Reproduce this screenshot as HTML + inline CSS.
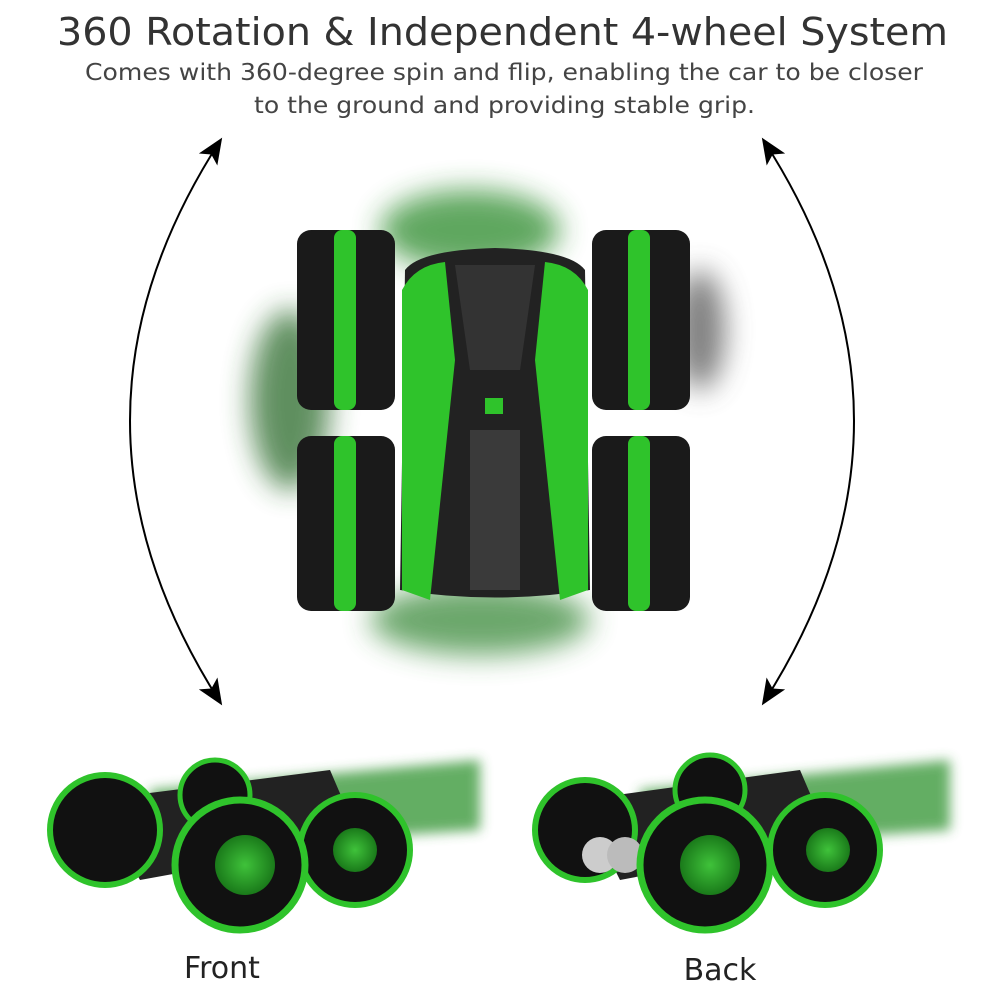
<!DOCTYPE html>
<html><head><meta charset="utf-8"><style>
html,body{margin:0;padding:0;background:#fff;}
svg{display:block;}
</style></head><body>
<svg width="1005" height="1005" viewBox="0 0 1005 1005" xmlns="http://www.w3.org/2000/svg">
<defs>
<filter id="blur" x="-50%" y="-50%" width="200%" height="200%"><feGaussianBlur stdDeviation="14"/></filter>
<filter id="blur2" x="-50%" y="-50%" width="200%" height="200%"><feGaussianBlur stdDeviation="6"/></filter>
<marker id="ah" markerWidth="26" markerHeight="22" refX="22" refY="11" orient="auto-start-reverse" markerUnits="userSpaceOnUse">
<path d="M0,0 L26,11 L0,22 L6,11 Z" fill="#000"/></marker>
<radialGradient id="hub" cx="50%" cy="50%" r="50%"><stop offset="0" stop-color="#3fc23a"/><stop offset="1" stop-color="#1a7a1a"/></radialGradient>
</defs>
<rect width="1005" height="1005" fill="#fff"/>
<text x="57" y="45" textLength="891" lengthAdjust="spacingAndGlyphs" font-family="DejaVu Sans, sans-serif" font-size="38" fill="#333">360 Rotation &amp; Independent 4-wheel System</text>
<text x="85" y="80" textLength="838" lengthAdjust="spacingAndGlyphs" font-family="DejaVu Sans, sans-serif" font-size="23" fill="#444">Comes with 360-degree spin and flip, enabling  the car to be closer</text>
<text x="254" y="113" textLength="501" lengthAdjust="spacingAndGlyphs" font-family="DejaVu Sans, sans-serif" font-size="23" fill="#444">to the ground and providing stable grip.</text>

<path d="M220,141 Q40,420 220,702" fill="none" stroke="#000" stroke-width="2" marker-start="url(#ah)" marker-end="url(#ah)"/>
<path d="M764,141 Q944,420 764,702" fill="none" stroke="#000" stroke-width="2" marker-start="url(#ah)" marker-end="url(#ah)"/>

<g filter="url(#blur)" opacity="0.75">
<ellipse cx="470" cy="230" rx="90" ry="40" fill="#2c8a2c"/>
<ellipse cx="290" cy="400" rx="40" ry="90" fill="#2c6a2c"/>
<ellipse cx="480" cy="620" rx="110" ry="35" fill="#3a8a3a"/>
<ellipse cx="700" cy="330" rx="25" ry="60" fill="#555"/>
</g>
<g fill="#1a1a1a">
<rect x="297" y="230" width="98" height="180" rx="14"/>
<rect x="297" y="436" width="98" height="175" rx="14"/>
<rect x="592" y="230" width="98" height="180" rx="14"/>
<rect x="592" y="436" width="98" height="175" rx="14"/>
</g>
<g fill="#2fc32b">
<rect x="334" y="230" width="22" height="180" rx="8"/>
<rect x="334" y="436" width="22" height="175" rx="8"/>
<rect x="628" y="230" width="22" height="180" rx="8"/>
<rect x="628" y="436" width="22" height="175" rx="8"/>
</g>
<path d="M405,270 Q420,250 495,248 Q570,250 585,270 L590,590 Q495,605 400,590 Z" fill="#222"/>
<path d="M402,290 Q415,265 445,262 L455,360 L430,600 L402,590 Z" fill="#2fc32b"/>
<path d="M588,290 Q575,265 545,262 L535,360 L560,600 L588,590 Z" fill="#2fc32b"/>
<path d="M455,265 L535,265 L520,370 L470,370 Z" fill="#333"/>
<rect x="485" y="398" width="18" height="16" fill="#2fc32b"/>
<rect x="470" y="430" width="50" height="160" fill="#3a3a3a"/>

<g filter="url(#blur2)" opacity="0.8">
<path d="M150,790 L480,760 L480,830 L150,850 Z" fill="#3c9a3c"/>
</g>
<path d="M95,800 L330,770 L360,840 L140,880 Z" fill="#222"/>
<circle cx="215" cy="795" r="35" fill="#111" stroke="#2fc32b" stroke-width="5"/>
<circle cx="105" cy="830" r="55" fill="#111" stroke="#2fc32b" stroke-width="6"/>
<circle cx="355" cy="850" r="55" fill="#111" stroke="#2fc32b" stroke-width="6"/>
<circle cx="355" cy="850" r="22" fill="url(#hub)"/>
<circle cx="240" cy="865" r="65" fill="#111" stroke="#2fc32b" stroke-width="7"/>
<circle cx="245" cy="865" r="30" fill="url(#hub)"/>
<text x="222" y="978" text-anchor="middle" font-family="DejaVu Sans, sans-serif" font-size="30" fill="#222">Front</text>

<g filter="url(#blur2)" opacity="0.8">
<path d="M640,790 L950,760 L950,830 L640,850 Z" fill="#3c9a3c"/>
</g>
<path d="M580,800 L800,770 L830,840 L620,880 Z" fill="#222"/>
<circle cx="710" cy="790" r="35" fill="#111" stroke="#2fc32b" stroke-width="5"/>
<circle cx="585" cy="830" r="50" fill="#111" stroke="#2fc32b" stroke-width="6"/>
<circle cx="825" cy="850" r="55" fill="#111" stroke="#2fc32b" stroke-width="6"/>
<circle cx="828" cy="850" r="22" fill="url(#hub)"/>
<circle cx="600" cy="855" r="18" fill="#ccc"/>
<circle cx="625" cy="855" r="18" fill="#bbb"/>
<circle cx="705" cy="865" r="65" fill="#111" stroke="#2fc32b" stroke-width="7"/>
<circle cx="710" cy="865" r="30" fill="url(#hub)"/>
<text x="720" y="980" text-anchor="middle" font-family="DejaVu Sans, sans-serif" font-size="30" fill="#222">Back</text>
</svg>
</body></html>
